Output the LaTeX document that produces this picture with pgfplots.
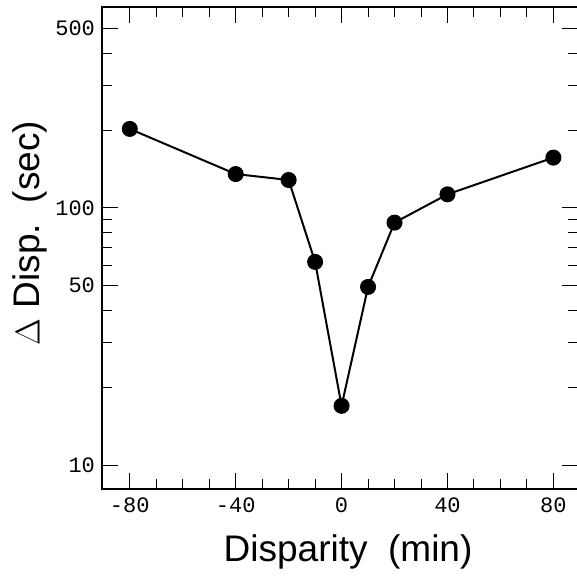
\documentclass[border=0pt]{standalone}
\usepackage{pgfplots}
\pgfplotsset{compat=1.18}
\usepackage{fontspec}
\setmainfont{Liberation Sans}
\setmonofont{Liberation Mono}
\begin{document}
\begin{tikzpicture}
\begin{axis}[
  scale only axis, width=238pt, height=241pt,
  ymode=log, xmin=-90.5, xmax=89.3, ymin=8.07, ymax=605,
  xtick={-80,-40,0,40,80}, xticklabels={-80,-40,0,40,80},
  minor xtick={-70,-60,-50,-30,-20,-10,10,20,30,50,60,70},
  ytick={10,50,100,500}, yticklabels={10,50,100,500},
  minor ytick={20,30,40,60,70,80,90,200,300,400},
  tick align=inside, major tick length=8pt, minor tick length=5pt,
  tick style={line width=0.5pt, black},
  axis line style={line width=1pt},
  ticklabel style={font=\fontsize{11}{11}\ttfamily},
  xticklabel style={yshift=-1pt},
  yticklabel style={xshift=0pt},
  xlabel={Disparity\ \ (min)},
  ylabel={$\Delta$ Disp.\ \ (sec)},
  xlabel style={at={(axis description cs:0.517,-0.1307)}, anchor=center, font=\fontsize{18.5}{20}\selectfont},
  ylabel style={at={(axis description cs:-0.1513,0.531)}, anchor=center, font=\fontsize{18.5}{20}\selectfont},
]
\addplot[black, line width=1pt, mark=*, mark size=3.5pt, mark options={solid, fill=black}]
coordinates {(-80,203) (-40,135.5) (-20,128.5) (-10,61.7) (0,17.0) (10,49.3) (20,87.7) (40,113) (80,157)};
\end{axis}
\pgfresetboundingbox
\useasboundingbox ([shift={(-51pt,-44pt)}]current axis.south west) rectangle ([shift={(-0.5pt,3.5pt)}]current axis.north east);
\end{tikzpicture}
\end{document}
